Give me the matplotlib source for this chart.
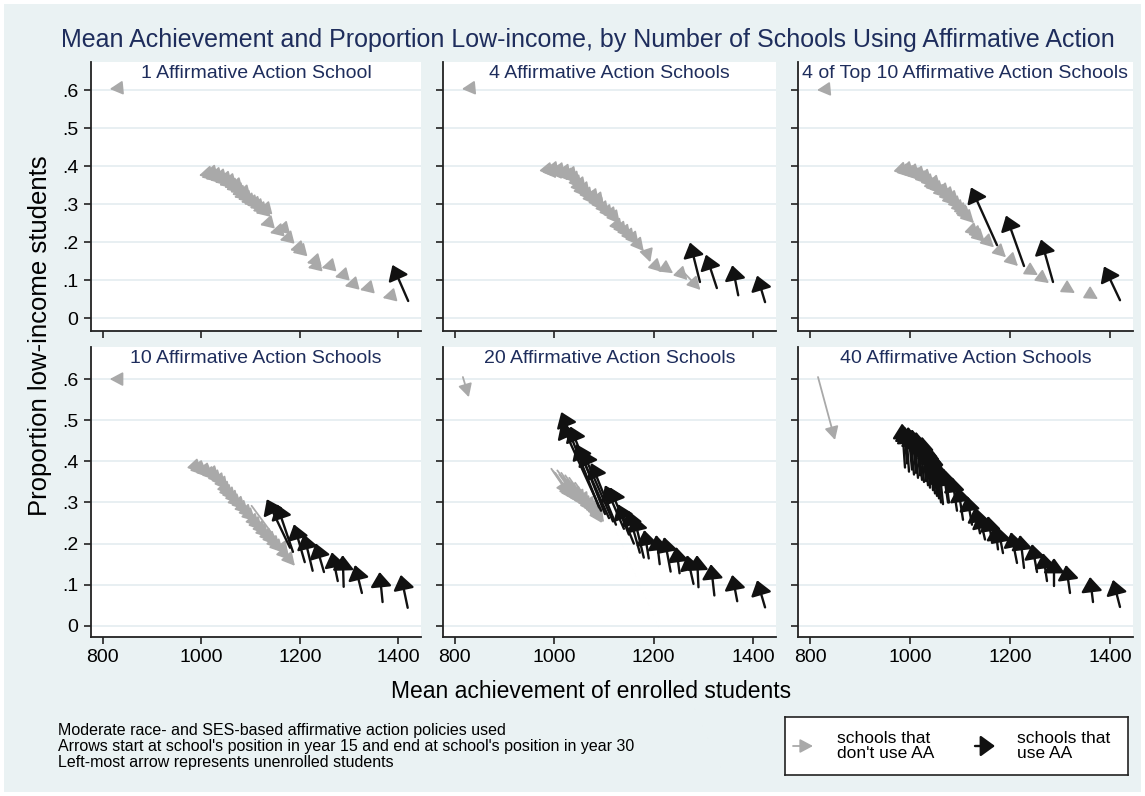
import matplotlib
matplotlib.use("Agg")
import matplotlib.pyplot as plt
from matplotlib.patches import Rectangle

plt.rcParams['font.family'] = ['Liberation Sans', 'DejaVu Sans']

# ---- data: arrows go from year-15 position (x0, y0) to year-30 position (x1, y1)
panel_titles = ['1 Affirmative Action School', '4 Affirmative Action Schools',
                '4 of Top 10 Affirmative Action Schools', '10 Affirmative Action Schools',
                '20 Affirmative Action Schools', '40 Affirmative Action Schools']
x_ticks = [800, 1000, 1200, 1400]
y_ticks = [0, 0.1, 0.2, 0.3, 0.4, 0.5, 0.6]
y_ticklabels = ['0', '.1', '.2', '.3', '.4', '.5', '.6']

# panel 1
p1_gx0 = [822, 1001, 1006, 1010, 1014, 1019, 1024, 1028, 1033, 1038, 1042, 1047, 1052, 1056, 1060, 1064, 1068, 1072, 1076, 1080,
          1086, 1092, 1098, 1104, 1110, 1116, 1120, 1125, 1145, 1156, 1165, 1186, 1191, 1220, 1222, 1250, 1277, 1297, 1328, 1374]
p1_gy0 = [0.604, 0.377, 0.372, 0.380, 0.368, 0.374, 0.364, 0.370, 0.359, 0.364, 0.352, 0.358, 0.346, 0.340, 0.347, 0.334, 0.327, 0.320, 0.328, 0.314,
          0.307, 0.302, 0.298, 0.292, 0.284, 0.278, 0.284, 0.247, 0.226, 0.232, 0.207, 0.181, 0.174, 0.147, 0.134, 0.134, 0.110, 0.086, 0.076, 0.055]
p1_gx1 = [814, 995, 1000, 1004, 1008, 1013, 1018, 1022, 1027, 1032, 1036, 1041, 1046, 1050, 1054, 1058, 1062, 1066, 1070, 1074,
          1080, 1086, 1092, 1098, 1104, 1110, 1114, 1119, 1139, 1150, 1159, 1180, 1185, 1214, 1216, 1244, 1271, 1291, 1322, 1368]
p1_gy1 = [0.603, 0.375, 0.370, 0.378, 0.366, 0.372, 0.362, 0.368, 0.357, 0.362, 0.350, 0.356, 0.344, 0.338, 0.345, 0.332, 0.325, 0.318, 0.326, 0.312,
          0.305, 0.300, 0.296, 0.290, 0.282, 0.276, 0.282, 0.245, 0.224, 0.230, 0.205, 0.179, 0.172, 0.145, 0.132, 0.132, 0.108, 0.084, 0.074, 0.053]
p1_ax0 = [1420]
p1_ay0 = [0.045]
p1_ax1 = [1388]
p1_ay1 = [0.140]

# panel 2
p2_gx0 = [822, 993, 999, 1005, 1011, 1017, 1023, 1029, 1035, 1041, 1047, 1051, 1055, 1059, 1061, 1067, 1073, 1079, 1085, 1091,
          1095, 1097, 1105, 1113, 1121, 1127, 1133, 1141, 1149, 1157, 1165, 1175, 1186, 1206, 1228, 1250, 1262]
p2_gy0 = [0.604, 0.380, 0.376, 0.383, 0.374, 0.380, 0.370, 0.376, 0.366, 0.370, 0.358, 0.348, 0.336, 0.343, 0.326, 0.330, 0.316, 0.306, 0.312, 0.296,
          0.303, 0.290, 0.280, 0.270, 0.264, 0.256, 0.234, 0.226, 0.218, 0.208, 0.200, 0.184, 0.175, 0.135, 0.128, 0.124, 0.118]
p2_gx1 = [814, 998, 1004, 1010, 1016, 1022, 1028, 1034, 1040, 1046, 1052, 1056, 1060, 1064, 1066, 1072, 1078, 1084, 1090, 1096,
          1100, 1102, 1110, 1118, 1126, 1132, 1138, 1146, 1154, 1162, 1170, 1180, 1193, 1217, 1239, 1268, 1294]
p2_gy1 = [0.603, 0.372, 0.368, 0.375, 0.366, 0.372, 0.362, 0.368, 0.358, 0.362, 0.350, 0.340, 0.328, 0.335, 0.318, 0.322, 0.308, 0.298, 0.304, 0.288,
          0.295, 0.282, 0.272, 0.262, 0.256, 0.248, 0.226, 0.218, 0.210, 0.200, 0.192, 0.176, 0.147, 0.121, 0.118, 0.100, 0.074]
p2_ax0 = [1424, 1370, 1327, 1293]
p2_ay0 = [0.042, 0.060, 0.079, 0.095]
p2_ax1 = [1408, 1358, 1305, 1273]
p2_ay1 = [0.112, 0.139, 0.167, 0.199]

# panel 3
p3_gx0 = [822, 990, 996, 1002, 1008, 1014, 1020, 1026, 1032, 1038, 1044, 1050, 1054, 1056, 1062, 1068, 1074, 1080, 1084, 1086,
          1092, 1098, 1104, 1110, 1114, 1116, 1122, 1130, 1138, 1142, 1160, 1184, 1208, 1246, 1270, 1320, 1366]
p3_gy0 = [0.601, 0.382, 0.378, 0.384, 0.374, 0.378, 0.368, 0.372, 0.360, 0.364, 0.352, 0.342, 0.338, 0.348, 0.334, 0.324, 0.328, 0.314, 0.318, 0.304,
          0.308, 0.294, 0.284, 0.276, 0.270, 0.266, 0.258, 0.225, 0.218, 0.210, 0.196, 0.170, 0.147, 0.121, 0.100, 0.074, 0.058]
p3_gx1 = [814, 996, 1002, 1008, 1014, 1020, 1026, 1032, 1038, 1044, 1050, 1056, 1060, 1062, 1068, 1074, 1080, 1086, 1090, 1092,
          1098, 1104, 1110, 1116, 1120, 1122, 1128, 1138, 1146, 1150, 1168, 1192, 1216, 1256, 1278, 1330, 1376]
p3_gy1 = [0.600, 0.374, 0.370, 0.376, 0.366, 0.370, 0.360, 0.364, 0.352, 0.356, 0.344, 0.334, 0.330, 0.340, 0.326, 0.316, 0.320, 0.306, 0.310, 0.296,
          0.300, 0.286, 0.276, 0.268, 0.262, 0.258, 0.250, 0.215, 0.208, 0.200, 0.186, 0.160, 0.137, 0.113, 0.092, 0.066, 0.050]
p3_ax0 = [1174, 1228, 1286, 1420]
p3_ay0 = [0.192, 0.137, 0.095, 0.047]
p3_ax1 = [1122, 1192, 1262, 1388]
p3_ay1 = [0.344, 0.270, 0.207, 0.136]

# panel 4
p4_gx0 = [826, 986, 998, 1004, 1010, 1016, 1022, 1028, 1034, 1040, 1046, 1050, 1054, 1060, 1066, 1072, 1080, 1086, 1090, 1098,
          1104, 1110, 1114, 1120, 1124, 1130, 1136, 1140, 1102, 1150, 1146]
p4_gy0 = [0.600, 0.390, 0.376, 0.378, 0.370, 0.372, 0.364, 0.366, 0.356, 0.350, 0.342, 0.332, 0.324, 0.318, 0.310, 0.300, 0.294, 0.284, 0.280, 0.268,
          0.258, 0.250, 0.246, 0.236, 0.232, 0.226, 0.218, 0.212, 0.292, 0.200, 0.208]
p4_gx1 = [814, 1000, 1006, 1012, 1018, 1024, 1030, 1036, 1042, 1048, 1054, 1060, 1064, 1070, 1076, 1082, 1090, 1096, 1104, 1110,
          1118, 1124, 1132, 1138, 1146, 1152, 1160, 1166, 1176, 1180, 1190]
p4_gy1 = [0.600, 0.372, 0.366, 0.370, 0.360, 0.364, 0.354, 0.356, 0.346, 0.338, 0.330, 0.318, 0.310, 0.304, 0.296, 0.288, 0.282, 0.272, 0.262, 0.254,
          0.240, 0.232, 0.222, 0.214, 0.204, 0.196, 0.186, 0.178, 0.172, 0.160, 0.146]
p4_ax0 = [1419, 1368, 1326, 1289, 1277, 1249, 1226, 1210, 1186, 1180]
p4_ay0 = [0.044, 0.058, 0.080, 0.095, 0.109, 0.131, 0.134, 0.155, 0.180, 0.190]
p4_ax1 = [1405, 1362, 1312, 1287, 1265, 1232, 1208, 1188, 1153, 1133]
p4_ay1 = [0.124, 0.131, 0.148, 0.172, 0.179, 0.201, 0.223, 0.247, 0.296, 0.308]

# panel 5
p5_gx0 = [816, 994, 998, 1002, 1006, 1010, 1014, 1018, 1022, 1026, 1030, 1034, 1038, 1042, 1046, 1050, 1054, 1058, 1062, 1066, 1070]
p5_gy0 = [0.605, 0.382, 0.376, 0.372, 0.378, 0.368, 0.372, 0.362, 0.366, 0.356, 0.360, 0.350, 0.344, 0.348, 0.338, 0.332, 0.326, 0.320, 0.316, 0.308, 0.302]
p5_gx1 = [828, 1030, 1036, 1040, 1046, 1050, 1054, 1058, 1062, 1066, 1070, 1074, 1078, 1082, 1086, 1090, 1094, 1098, 1096, 1100, 1098]
p5_gy1 = [0.556, 0.318, 0.310, 0.306, 0.312, 0.300, 0.304, 0.294, 0.298, 0.288, 0.292, 0.282, 0.276, 0.280, 0.270, 0.266, 0.262, 0.256, 0.250, 0.252, 0.258]
p5_ax0 = [1090, 1094, 1102, 1110, 1118, 1124, 1140, 1150, 1160, 1172, 1180, 1190, 1212, 1234, 1252, 1280, 1290, 1322, 1368, 1424]
p5_ay0 = [0.288, 0.280, 0.272, 0.262, 0.254, 0.246, 0.236, 0.222, 0.200, 0.178, 0.166, 0.164, 0.150, 0.132, 0.128, 0.102, 0.094, 0.074, 0.060, 0.045]
p5_ax1 = [1014, 1014, 1032, 1044, 1056, 1074, 1102, 1112, 1128, 1148, 1160, 1181, 1205, 1221, 1245, 1267, 1287, 1315, 1358, 1408]
p5_ay1 = [0.520, 0.493, 0.485, 0.442, 0.427, 0.396, 0.342, 0.337, 0.296, 0.281, 0.267, 0.233, 0.221, 0.216, 0.192, 0.172, 0.172, 0.150, 0.124, 0.111]

# panel 6
p6_gx0 = [816]
p6_gy0 = [0.605]
p6_gx1 = [850]
p6_gy1 = [0.452]
p6_ax0 = [990, 994, 998, 1004, 1008, 1012, 1016, 1020, 1024, 1028, 1032, 1036, 1040, 1042, 1046, 1050, 1050, 1054, 1056, 1058,
          1062, 1066, 1076, 1078, 1094, 1106, 1124, 1140, 1150, 1164, 1176, 1186, 1214, 1228, 1254, 1274, 1288, 1320, 1366, 1420]
p6_ay0 = [0.385, 0.395, 0.375, 0.380, 0.368, 0.372, 0.360, 0.366, 0.355, 0.350, 0.352, 0.342, 0.336, 0.345, 0.330, 0.322, 0.340, 0.316, 0.318, 0.310,
          0.300, 0.296, 0.300, 0.300, 0.280, 0.258, 0.246, 0.225, 0.210, 0.204, 0.186, 0.177, 0.153, 0.141, 0.131, 0.109, 0.097, 0.080, 0.058, 0.046]
p6_ax1 = [984, 988, 992, 996, 1000, 1004, 1008, 1012, 1016, 1020, 1024, 1028, 1032, 1036, 1040, 1042, 1044, 1046, 1048, 1050,
          1054, 1058, 1066, 1070, 1084, 1096, 1114, 1130, 1138, 1156, 1170, 1176, 1202, 1220, 1244, 1266, 1288, 1312, 1360, 1406]
p6_ay1 = [0.492, 0.486, 0.480, 0.484, 0.474, 0.478, 0.468, 0.472, 0.462, 0.456, 0.460, 0.450, 0.444, 0.438, 0.430, 0.418, 0.424, 0.410, 0.400, 0.404,
          0.396, 0.390, 0.384, 0.378, 0.362, 0.338, 0.316, 0.289, 0.274, 0.267, 0.245, 0.240, 0.228, 0.221, 0.199, 0.177, 0.165, 0.148, 0.119, 0.112]

panels = [
    (p1_gx0, p1_gy0, p1_gx1, p1_gy1, p1_ax0, p1_ay0, p1_ax1, p1_ay1),
    (p2_gx0, p2_gy0, p2_gx1, p2_gy1, p2_ax0, p2_ay0, p2_ax1, p2_ay1),
    (p3_gx0, p3_gy0, p3_gx1, p3_gy1, p3_ax0, p3_ay0, p3_ax1, p3_ay1),
    (p4_gx0, p4_gy0, p4_gx1, p4_gy1, p4_ax0, p4_ay0, p4_ax1, p4_ay1),
    (p5_gx0, p5_gy0, p5_gx1, p5_gy1, p5_ax0, p5_ay0, p5_ax1, p5_ay1),
    (p6_gx0, p6_gy0, p6_gx1, p6_gy1, p6_ax0, p6_ay0, p6_ax1, p6_ay1),
]

notes = ["Moderate race- and SES-based affirmative action policies used",
         "Arrows start at school's position in year 15 and end at school's position in year 30",
         "Left-most arrow represents unenrolled students"]

BG = '#EAF2F3'
NAVY = '#1E2D5C'
GRAY = '#A9A9A9'
BLACK = '#111111'
GRID = '#E4ECF0'
GRAY_HEAD = '-|>,head_length=0.6,head_width=0.32'
BLACK_HEAD = '-|>,head_length=0.55,head_width=0.4'


def draw_arrows(ax, x0, y0, x1, y1, color, lw, scale, style):
    for a, b, c, d in zip(x0, y0, x1, y1):
        ax.annotate('', xy=(c, d), xytext=(a, b), xycoords='data',
                    arrowprops=dict(arrowstyle=style, color=color, lw=lw,
                                    shrinkA=0, shrinkB=0, mutation_scale=scale))


W, H = 1145, 796
fig = plt.figure(figsize=(W / 100, H / 100), dpi=100, facecolor='white')
fig.patches.append(Rectangle((4 / W, 4 / H), 1 - 8 / W, 1 - 8 / H, transform=fig.transFigure,
                             facecolor=BG, edgecolor='none', zorder=-10))

col_edges = [(91, 421), (443, 776), (798, 1133)]
row_edges = [(62, 331), (347, 637)]
row_ylims = [(-0.034, 0.674), (-0.027, 0.678)]

for i, data in enumerate(panels):
    r, c = divmod(i, 3)
    l, rt = col_edges[c]
    t, b = row_edges[r]
    ax = fig.add_axes([l / W, 1 - b / H, (rt - l) / W, (b - t) / H])
    ax.set_facecolor('white')
    ax.set_xlim(776, 1446)
    ax.set_ylim(*row_ylims[r])
    ax.set_yticks(y_ticks)
    ax.set_xticks(x_ticks)
    ax.yaxis.grid(True, color=GRID, lw=1.2)
    ax.set_axisbelow(True)
    for s in ['top', 'right']:
        ax.spines[s].set_visible(False)
    for s in ['left', 'bottom']:
        ax.spines[s].set_linewidth(1.3)
        ax.spines[s].set_color('#222222')
    ax.tick_params(direction='out', length=5, width=1.2, color='#222222', labelsize=14, pad=4)
    if c == 0:
        ax.set_yticklabels(y_ticklabels)
    else:
        ax.set_yticklabels([])
    if r == 1:
        ax.set_xticklabels([str(v) for v in x_ticks])
    else:
        ax.set_xticklabels([])
    ax.text(0.5, 0.958 if r == 0 else 0.962, panel_titles[i], transform=ax.transAxes,
            ha='center', va='center', fontsize=14, color=NAVY)

    gx0, gy0, gx1, gy1, ax0, ay0, ax1, ay1 = data
    draw_arrows(ax, gx0, gy0, gx1, gy1, GRAY, 1.3, 13, GRAY_HEAD)
    draw_arrows(ax, ax0, ay0, ax1, ay1, BLACK, 1.7, 16, BLACK_HEAD)

fig.text(588 / W, 1 - 40 / H, 'Mean Achievement and Proportion Low-income, by Number of Schools Using Affirmative Action',
         ha='center', va='center', fontsize=18, color=NAVY)
fig.text(40 / W, 1 - 336 / H, 'Proportion low-income students', rotation=90,
         ha='center', va='center', fontsize=18.5, color='black')
fig.text(591 / W, 1 - 692 / H, 'Mean achievement of enrolled students',
         ha='center', va='center', fontsize=16.5, color='black')

for k, line in enumerate(notes):
    fig.text(58 / W, 1 - (730 + 16.5 * k) / H, line, ha='left', va='center', fontsize=11.5)

# legend box
lg = fig.add_axes([785 / W, 1 - 775 / H, 343 / W, 58 / H])
lg.set_xlim(0, 343)
lg.set_ylim(0, 58)
lg.set_xticks([])
lg.set_yticks([])
lg.set_facecolor('white')
for s in lg.spines.values():
    s.set_linewidth(1.2)
    s.set_color('#222222')
lg.annotate('', xy=(28, 29), xytext=(8, 29),
            arrowprops=dict(arrowstyle=GRAY_HEAD, color=GRAY, lw=1.3, shrinkA=0, shrinkB=0, mutation_scale=13))
lg.annotate('', xy=(210, 29), xytext=(190, 29),
            arrowprops=dict(arrowstyle=BLACK_HEAD, color=BLACK, lw=1.7, shrinkA=0, shrinkB=0, mutation_scale=16))
lg.text(52, 29, "schools that\ndon't use AA", ha='left', va='center', fontsize=12.5, linespacing=0.95)
lg.text(232, 29, "schools that\nuse AA", ha='left', va='center', fontsize=12.5, linespacing=0.95)

fig.savefig('out.png', dpi=100, facecolor='white')
